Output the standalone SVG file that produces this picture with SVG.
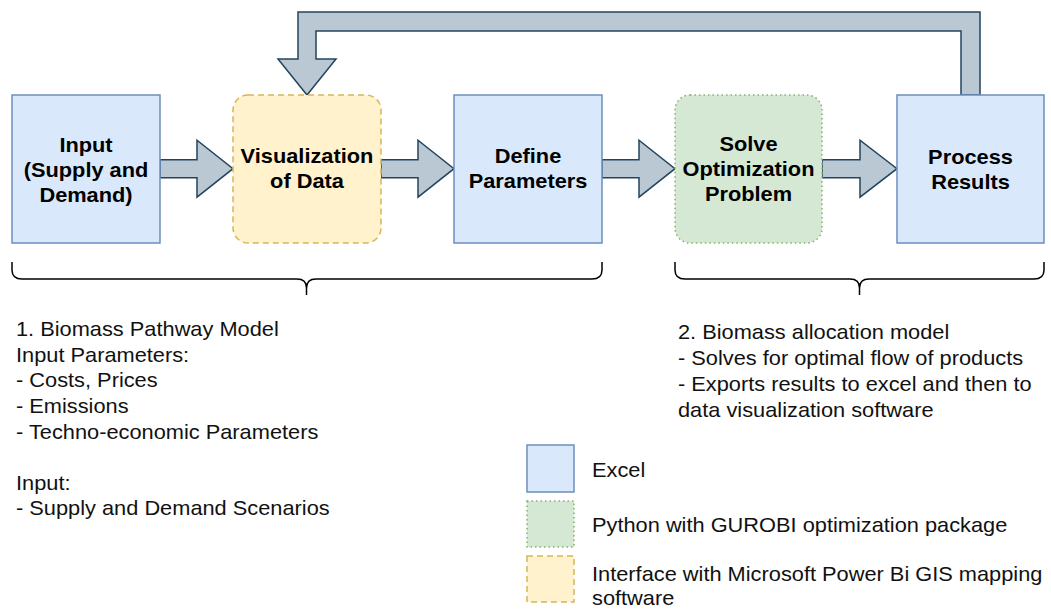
<svg xmlns="http://www.w3.org/2000/svg" width="1051" height="610" viewBox="0 0 1051 610">
<style>
.excel{fill:#dae8fc;stroke:#6c8ebf;stroke-width:1.5}
.py{fill:#d5e8d4;stroke:#82b366;stroke-width:1.5;stroke-dasharray:1.5 3}
.viz{fill:#fff2cc;stroke:#d6b656;stroke-width:1.5;stroke-dasharray:6 4}
.arr{fill:#bac8d3;stroke:#23445d;stroke-width:1.5;stroke-linejoin:miter}
.brace{fill:none;stroke:#000;stroke-width:1.5}
.b{font-family:"Liberation Sans",Arial,sans-serif;font-weight:bold;font-size:20px;fill:#000;text-anchor:middle}
.t{font-family:"Liberation Sans",Arial,sans-serif;font-size:20px;fill:#111}
</style>
<rect width="1051" height="610" fill="#fff"/>
<g id="connectors">
<polygon class="arr" points="160,159.7 197,159.7 197,140.2 233,168.7 197,197.2 197,177.7 160,177.7"/>
<polygon class="arr" points="381,159.7 418,159.7 418,140.2 454,168.7 418,197.2 418,177.7 381,177.7"/>
<polygon class="arr" points="602,159.7 639,159.7 639,140.2 675,168.7 639,197.2 639,177.7 602,177.7"/>
<polygon class="arr" points="822,159.7 860,159.7 860,140.2 897,168.7 860,197.2 860,177.7 822,177.7"/>
<polygon class="arr" points="980,95 980,12 298,12 298,59 278,59 307,95 336,59 316,59 316,31 961,31 961,95"/>
</g>
<g id="node-input">
<rect class="excel" x="12" y="95" width="148" height="148"/>
<text class="b" transform="translate(86,152) scale(1.09,1)">Input</text>
<text class="b" transform="translate(86,177) scale(1.09,1)">(Supply and</text>
<text class="b" transform="translate(86,202) scale(1.09,1)">Demand)</text>
</g>
<g id="node-visualization">
<rect class="viz" x="233" y="95" width="148" height="148" rx="15" ry="15"/>
<text class="b" transform="translate(307,163) scale(1.09,1)">Visualization</text>
<text class="b" transform="translate(307,188) scale(1.09,1)">of Data</text>
</g>
<g id="node-define">
<rect class="excel" x="454" y="95" width="148" height="148"/>
<text class="b" transform="translate(528,163) scale(1.09,1)">Define</text>
<text class="b" transform="translate(528,188) scale(1.09,1)">Parameters</text>
</g>
<g id="node-solve">
<rect class="py" x="675" y="95" width="147" height="148" rx="15" ry="15"/>
<text class="b" transform="translate(748.5,151) scale(1.09,1)">Solve</text>
<text class="b" transform="translate(748.5,176) scale(1.09,1)">Optimization</text>
<text class="b" transform="translate(748.5,201) scale(1.09,1)">Problem</text>
</g>
<g id="node-process">
<rect class="excel" x="897" y="95" width="147" height="148"/>
<text class="b" transform="translate(970.5,164) scale(1.09,1)">Process</text>
<text class="b" transform="translate(970.5,189) scale(1.09,1)">Results</text>
</g>
<g id="brace-1">
<path class="brace" d="M12,262 V270 Q12,279 22,279 H297 Q306.5,279 306.5,288 V295 M306.5,288 Q306.5,279 316,279 H592 Q602,279 602,270 V262"/>
</g>
<g id="brace-2">
<path class="brace" d="M675,262 V270 Q675,279 685,279 H850 Q859.5,279 859.5,288 V295 M859.5,288 Q859.5,279 869,279 H1034 Q1044,279 1044,270 V262"/>
</g>
<g id="label-model1" transform="translate(16,0) scale(1.09,1)">
<text class="t" x="0" y="336">1. Biomass Pathway Model</text>
<text class="t" x="0" y="362">Input Parameters:</text>
<text class="t" x="0" y="387.5">- Costs, Prices</text>
<text class="t" x="0" y="413">- Emissions</text>
<text class="t" x="0" y="439">- Techno-economic Parameters</text>
<text class="t" x="0" y="490">Input:</text>
<text class="t" x="0" y="515.5">- Supply and Demand Scenarios</text>
</g>
<g id="label-model2" transform="translate(678,0) scale(1.09,1)">
<text class="t" x="0" y="339">2. Biomass allocation model</text>
<text class="t" x="0" y="365">- Solves for optimal flow of products</text>
<text class="t" x="0" y="391">- Exports results to excel and then to</text>
<text class="t" x="0" y="417">data visualization software</text>
</g>
<g id="legend-excel">
<rect class="excel" x="527" y="445" width="47" height="47"/>
<text class="t" transform="translate(592,477) scale(1.09,1)">Excel</text>
</g>
<g id="legend-python">
<rect class="py" x="527" y="501" width="47" height="46"/>
<text class="t" transform="translate(592,532) scale(1.09,1)">Python with GUROBI optimization package</text>
</g>
<g id="legend-interface">
<rect class="viz" x="527" y="556" width="47" height="46"/>
<text class="t" transform="translate(592,581) scale(1.09,1)">Interface with Microsoft Power Bi GIS mapping</text>
<text class="t" transform="translate(592,605) scale(1.09,1)">software</text>
</g>
</svg>
